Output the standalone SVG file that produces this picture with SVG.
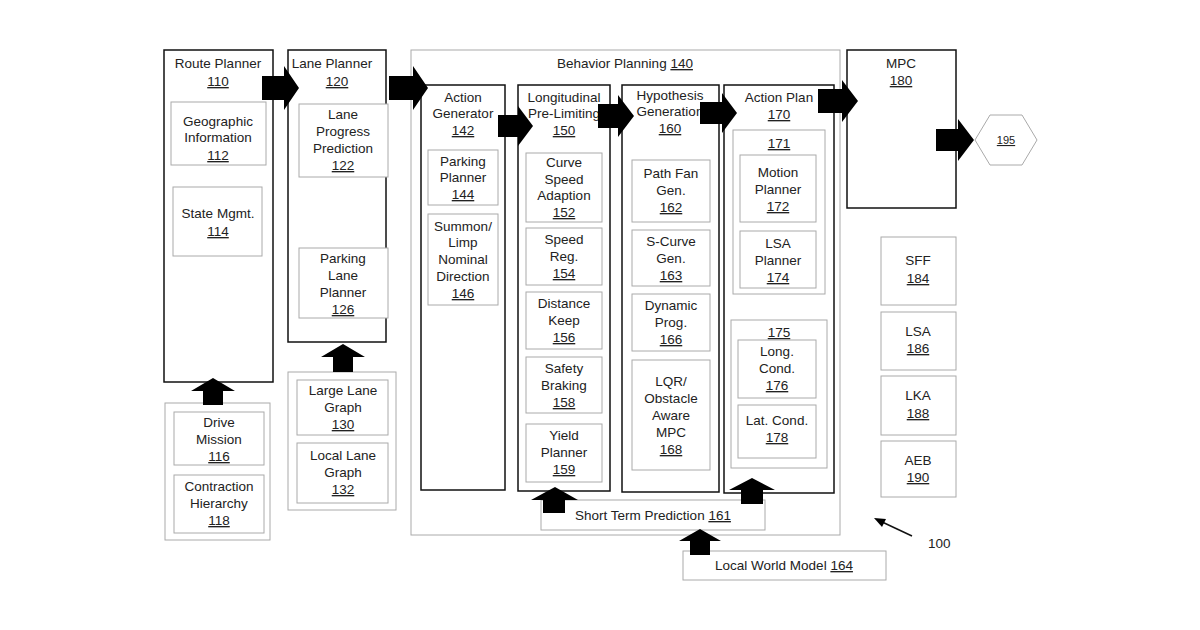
<svg xmlns="http://www.w3.org/2000/svg" width="1200" height="630" viewBox="0 0 1200 630">
<style>
.m{fill:#fff;stroke:#111;stroke-width:1.5}
.g{fill:#fff;stroke:#aaa;stroke-width:1}
text{font-family:"Liberation Sans",Arial,sans-serif;font-size:13.5px;fill:#222;text-anchor:middle}
.u{text-decoration:underline}
.a{fill:#000}
</style>
<rect width="1200" height="630" fill="#fff"/>
<g id="behavior"><rect class="g" x="411" y="50" width="429" height="485"/><text x="625" y="68">Behavior Planning <tspan class="u">140</tspan></text></g>
<g id="route"><rect class="m" x="164" y="50" width="109" height="332"/><text x="218" y="68">Route Planner</text><text x="218" y="86" class="u">110</text></g>
<g id="geo"><rect class="g" x="171" y="102" width="95" height="63"/><text x="218" y="126">Geographic</text><text x="218" y="142">Information</text><text x="218" y="160" class="u">112</text></g>
<g id="state"><rect class="g" x="173" y="187" width="89" height="69"/><text x="218" y="218">State Mgmt.</text><text x="218" y="236" class="u">114</text></g>
<g id="mission-group"><rect class="g" x="165" y="403" width="105" height="137"/></g>
<g id="drive"><rect class="g" x="174" y="412" width="90" height="53"/><text x="219" y="427">Drive</text><text x="219" y="444">Mission</text><text x="219" y="461" class="u">116</text></g>
<g id="contraction"><rect class="g" x="174" y="475" width="90" height="58"/><text x="219" y="491">Contraction</text><text x="219" y="508">Hierarchy</text><text x="219" y="525" class="u">118</text></g>
<g id="lane"><rect class="m" x="288" y="50" width="98" height="292"/><text x="332" y="68">Lane Planner</text><text x="337" y="86" class="u">120</text></g>
<g id="lpp"><rect class="g" x="299" y="104" width="89" height="73"/><text x="343" y="119">Lane</text><text x="343" y="136">Progress</text><text x="343" y="153">Prediction</text><text x="343" y="170" class="u">122</text></g>
<g id="plp"><rect class="g" x="299" y="248" width="89" height="70"/><text x="343" y="263">Parking</text><text x="343" y="280">Lane</text><text x="343" y="297">Planner</text><text x="343" y="314" class="u">126</text></g>
<g id="graph-group"><rect class="g" x="288" y="372" width="108" height="138"/></g>
<g id="large"><rect class="g" x="297" y="380" width="91" height="55"/><text x="343" y="395">Large Lane</text><text x="343" y="412">Graph</text><text x="343" y="429" class="u">130</text></g>
<g id="local"><rect class="g" x="297" y="443" width="91" height="60"/><text x="343" y="460">Local Lane</text><text x="343" y="477">Graph</text><text x="343" y="494" class="u">132</text></g>
<g id="actiongen"><rect class="m" x="421" y="85" width="84" height="405"/><text x="463" y="102">Action</text><text x="463" y="118">Generator</text><text x="463" y="135" class="u">142</text></g>
<g id="pp"><rect class="g" x="428" y="150" width="70" height="55"/><text x="463" y="166">Parking</text><text x="463" y="182">Planner</text><text x="463" y="199" class="u">144</text></g>
<g id="summon"><rect class="g" x="428" y="214" width="70" height="91"/><text x="463" y="231">Summon/</text><text x="463" y="247">Limp</text><text x="463" y="264">Nominal</text><text x="463" y="281">Direction</text><text x="463" y="298" class="u">146</text></g>
<g id="long"><rect class="m" x="518" y="85" width="92" height="406"/><text x="564" y="102">Longitudinal</text><text x="564" y="118">Pre-Limiting</text><text x="564" y="135" class="u">150</text></g>
<g id="curve"><rect class="g" x="526" y="153" width="76" height="69"/><text x="564" y="167">Curve</text><text x="564" y="184">Speed</text><text x="564" y="200">Adaption</text><text x="564" y="217" class="u">152</text></g>
<g id="speed"><rect class="g" x="526" y="228" width="76" height="57"/><text x="564" y="244">Speed</text><text x="564" y="261">Reg.</text><text x="564" y="278" class="u">154</text></g>
<g id="dist"><rect class="g" x="526" y="292" width="76" height="57"/><text x="564" y="308">Distance</text><text x="564" y="325">Keep</text><text x="564" y="342" class="u">156</text></g>
<g id="safety"><rect class="g" x="526" y="357" width="76" height="56"/><text x="564" y="373">Safety</text><text x="564" y="390">Braking</text><text x="564" y="407" class="u">158</text></g>
<g id="yield"><rect class="g" x="526" y="424" width="76" height="58"/><text x="564" y="440">Yield</text><text x="564" y="457">Planner</text><text x="564" y="474" class="u">159</text></g>
<g id="hyp"><rect class="m" x="622" y="85" width="97" height="407"/><text x="670" y="100">Hypothesis</text><text x="670" y="116">Generation</text><text x="670" y="133" class="u">160</text></g>
<g id="pathfan"><rect class="g" x="632" y="160" width="78" height="62"/><text x="671" y="178">Path Fan</text><text x="671" y="195">Gen.</text><text x="671" y="212" class="u">162</text></g>
<g id="scurve"><rect class="g" x="632" y="230" width="78" height="56"/><text x="671" y="246">S-Curve</text><text x="671" y="263">Gen.</text><text x="671" y="280" class="u">163</text></g>
<g id="dyn"><rect class="g" x="632" y="294" width="78" height="57"/><text x="671" y="310">Dynamic</text><text x="671" y="327">Prog.</text><text x="671" y="344" class="u">166</text></g>
<g id="lqr"><rect class="g" x="632" y="360" width="78" height="110"/><text x="671" y="386">LQR/</text><text x="671" y="403">Obstacle</text><text x="671" y="420">Aware</text><text x="671" y="437">MPC</text><text x="671" y="454" class="u">168</text></g>
<g id="actionplan"><rect class="m" x="724" y="85" width="110" height="408"/><text x="779" y="102">Action Plan</text><text x="779" y="119" class="u">170</text></g>
<g id="g171"><rect class="g" x="733" y="130" width="92" height="164"/><text x="779" y="148" class="u">171</text></g>
<g id="motion"><rect class="g" x="740" y="155" width="76" height="67"/><text x="778" y="177">Motion</text><text x="778" y="194">Planner</text><text x="778" y="211" class="u">172</text></g>
<g id="lsap"><rect class="g" x="740" y="231" width="76" height="57"/><text x="778" y="248">LSA</text><text x="778" y="265">Planner</text><text x="778" y="282" class="u">174</text></g>
<g id="g175"><rect class="g" x="731" y="320" width="96" height="148"/><text x="779" y="337" class="u">175</text></g>
<g id="longc"><rect class="g" x="738" y="340" width="78" height="58"/><text x="777" y="356">Long.</text><text x="777" y="373">Cond.</text><text x="777" y="390" class="u">176</text></g>
<g id="latc"><rect class="g" x="738" y="405" width="78" height="53"/><text x="777" y="425">Lat. Cond.</text><text x="777" y="442" class="u">178</text></g>
<g id="mpc"><rect class="m" x="847" y="50" width="109" height="158"/><text x="901" y="68">MPC</text><text x="901" y="85" class="u">180</text></g>
<g id="n195"><polygon points="975,140 990,115 1022,115 1037,140 1022,165 990,165" fill="#fff" stroke="#aaa" stroke-width="1"/><text x="1006" y="144" class="u" style="font-size:11px">195</text></g>
<g id="sff"><rect class="g" x="881" y="237" width="75" height="68"/><text x="918" y="265">SFF</text><text x="918" y="283" class="u">184</text></g>
<g id="lsa"><rect class="g" x="881" y="312" width="75" height="58"/><text x="918" y="336">LSA</text><text x="918" y="353" class="u">186</text></g>
<g id="lka"><rect class="g" x="881" y="376" width="75" height="59"/><text x="918" y="400">LKA</text><text x="918" y="418" class="u">188</text></g>
<g id="aeb"><rect class="g" x="881" y="441" width="75" height="56"/><text x="918" y="465">AEB</text><text x="918" y="482" class="u">190</text></g>
<g id="stp"><rect class="g" x="541" y="500" width="224" height="30"/><text x="653" y="520">Short Term Prediction <tspan class="u">161</tspan></text></g>
<g id="lwm"><rect class="g" x="683" y="551" width="203" height="29"/><text x="784" y="570">Local World Model <tspan class="u">164</tspan></text></g>
<g id="label100"><text x="928" y="548" style="text-anchor:start">100</text></g>
<g id="connectors">
<polygon class="a" points="262,76 284,76 284,66 299,88 284,110 284,100 262,100"/>
<polygon class="a" points="389,76 413,76 413,66 428,88 413,110 413,100 389,100"/>
<polygon class="a" points="498,115 518,115 518,106 533,126 518,146 518,137 498,137"/>
<polygon class="a" points="598,104 618,104 618,95 634,116 618,137 618,128 598,128"/>
<polygon class="a" points="700,102 722,102 722,93 737,113 722,133 722,124 700,124"/>
<polygon class="a" points="818,89 842,89 842,80 858,101 842,122 842,113 818,113"/>
<polygon class="a" points="936,129 958,129 958,119 974,140 958,161 958,151 936,151"/>
<polygon class="a" points="203,405 203,391 191,391 213,378 235,391 223,391 223,405"/>
<polygon class="a" points="333,372 333,357 321,357 343,344 365,357 353,357 353,372"/>
<polygon class="a" points="543,513 543,500 531,500 555,487 578,500 565,500 565,513"/>
<polygon class="a" points="741,504 741,490 729,490 752,478 775,490 763,490 763,504"/>
<polygon class="a" points="690,555 690,541 679,541 700,529 721,541 710,541 710,555"/>
<line x1="912" y1="536" x2="880" y2="521" stroke="#111" stroke-width="1.5"/>
<polygon class="a" points="874,518 886,519 882,527"/>
</g>
</svg>
